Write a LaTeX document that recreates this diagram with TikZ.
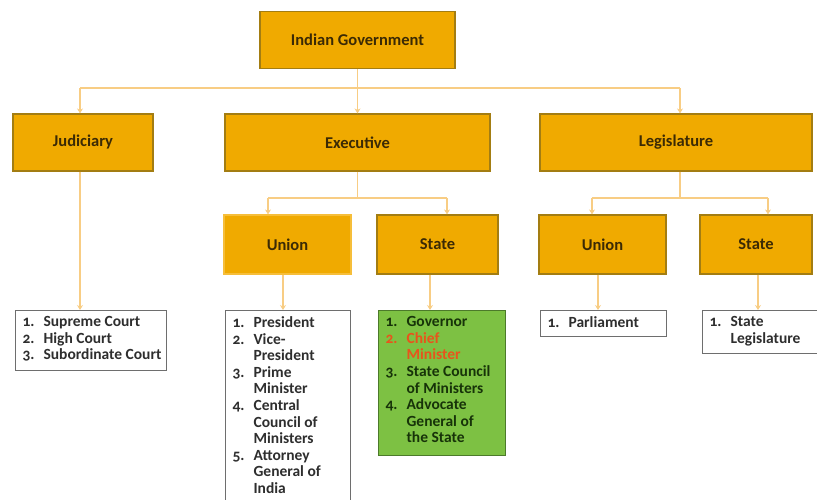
\documentclass[tikz,border=0pt]{standalone}
\usepackage{fontspec}
\setmainfont{Carlito}
\newfontfamily\onum{Carlito}[Numbers=OldStyle]
\usetikzlibrary{arrows.meta}

\definecolor{ofill}{HTML}{F0AA00}
\definecolor{obord}{HTML}{A37D12}
\definecolor{otext}{HTML}{3B2A05}
\definecolor{ulite}{HTML}{F6BE3A}
\definecolor{lnk}{HTML}{F8CD84}
\definecolor{lgray}{HTML}{6E6E6E}
\definecolor{ltext}{HTML}{2E2E2E}
\definecolor{gfill}{HTML}{7DC143}
\definecolor{gbord}{HTML}{4C7A2A}
\definecolor{gtext}{HTML}{173309}
\definecolor{cmred}{HTML}{E8541C}

\setlength{\parindent}{0pt}
\newcommand{\li}[2]{\mbox{\makebox[21pt][l]{\onum #1}#2}}

\begin{document}
\begin{tikzpicture}[x=1pt,y=-1pt,
    obox/.style={draw=obord, line width=1.2pt, fill=ofill, text=otext,
      font=\fontsize{16.5}{18}\selectfont\bfseries, minimum height=57pt},
    lbox/.style={draw=lgray, line width=1.2pt, fill=white, text=ltext,
      anchor=north west, inner xsep=7pt, inner ysep=6pt,
      font=\fontsize{15.5}{16.6}\selectfont\bfseries},
    gbox/.style={lbox, draw=gbord, fill=gfill, text=gtext},
    link/.style={draw=lnk, line width=1.3pt},
    arr/.style={link, -{Stealth[length=5pt,width=6pt]}}]
  \useasboundingbox (0,0) rectangle (817,499);

  \node[obox, minimum width=195pt] (ig) at (357.5,40) {Indian Government};
  \node[obox, minimum width=140pt] (jud) at (83,142.5) {Judiciary};
  \node[obox, minimum width=265pt] (exe) at (357.5,142.5) {Executive};
  \node[obox, minimum width=272pt] (leg) at (676,142.5) {Legislature};

  \node[obox, draw=ulite, minimum width=127pt, minimum height=59pt] (eu) at (287.5,244.5) {Union};
  \node[obox, minimum width=121pt, minimum height=59pt] (es) at (437.5,244.5) {State};
  \node[obox, minimum width=127pt, minimum height=59pt] (lu) at (602.5,244.5) {Union};
  \node[obox, minimum width=112pt, minimum height=59pt] (ls) at (756,244.5) {State};

  \node[lbox] (jl) at (15,310) {\parbox[t][48pt][t]{137pt}{%
    \li{1.}{Supreme Court}\\
    \li{2.}{High Court}\\
    \li{3.}{Subordinate Court}}};
  \node[lbox] (el) at (225,310) {\parbox[t][193pt][t]{111pt}{%
    \li{1.}{President}\\
    \li{2.}{Vice-}\\
    \li{}{President}\\
    \li{3.}{Prime}\\
    \li{}{Minister}\\
    \li{4.}{Central}\\
    \li{}{Council of}\\
    \li{}{Ministers}\\
    \li{5.}{Attorney}\\
    \li{}{General of}\\
    \li{}{India}}};
  \node[gbox] (sl) at (378,310) {\parbox[t][133pt][t]{113pt}{%
    \li{1.}{Governor}\\
    \textcolor{cmred}{\li{2.}{Chief}}\\
    \textcolor{cmred}{\li{}{Minister}}\\
    \li{3.}{State Council}\\
    \li{}{of Ministers}\\
    \li{4.}{Advocate}\\
    \li{}{General of}\\
    \li{}{the State}}};
  \node[lbox] (pl) at (540,310) {\parbox[t][14pt][t]{112pt}{%
    \li{1.}{Parliament}}};
  \node[lbox] (ll) at (702,310) {\parbox[t][31pt][t]{111pt}{%
    \li{1.}{State}\\
    \li{}{Legislature}}};

  \coordinate (j0) at (80,88);
  \coordinate (l0) at (680,88);
  \draw[link] (ig.south) -- (ig.south |- j0);
  \draw[link] (j0) -- (l0);
  \draw[arr] (j0) -- (j0 |- jud.north);
  \draw[arr] (ig.south |- j0) -- (exe.north);
  \draw[arr] (l0) -- (l0 |- leg.north);

  \coordinate (eu0) at (268,198);
  \coordinate (es0) at (447,198);
  \draw[link] (exe.south) -- (exe.south |- eu0);
  \draw[link] (eu0) -- (es0);
  \draw[arr] (eu0) -- (eu0 |- eu.north);
  \draw[arr] (es0) -- (es0 |- es.north);

  \coordinate (lu0) at (592,198);
  \coordinate (ls0) at (768,198);
  \draw[link] (l0 |- leg.south) -- (l0 |- lu0);
  \draw[link] (lu0) -- (ls0);
  \draw[arr] (lu0) -- (lu0 |- lu.north);
  \draw[arr] (ls0) -- (ls0 |- ls.north);

  \draw[arr] (j0 |- jud.south) -- (j0 |- jl.north);
  \draw[arr] ([xshift=-4.5pt]eu.south) -- ([xshift=-4.5pt]eu.south |- el.north);
  \draw[arr] ([xshift=-7.5pt]es.south) -- ([xshift=-7.5pt]es.south |- sl.north);
  \draw[arr] ([xshift=-4.5pt]lu.south) -- ([xshift=-4.5pt]lu.south |- pl.north);
  \draw[arr] ([xshift=2pt]ls.south) -- ([xshift=2pt]ls.south |- ll.north);
\end{tikzpicture}
\end{document}
